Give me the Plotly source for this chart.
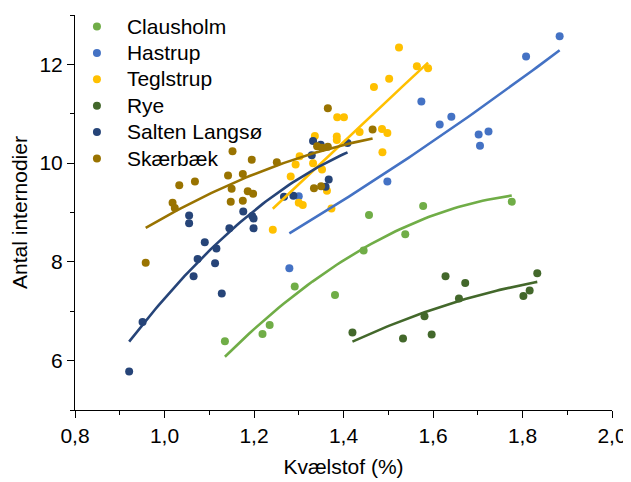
import numpy as np
import plotly.graph_objects as go

# ---- data ----
series_names = ["Clausholm", "Hastrup", "Teglstrup", "Rye", "Salten Langsø", "Skærbæk"]
series_colors = ["#70AD47", "#4472C4", "#FFC000", "#43682B", "#264478", "#997300"]

clausholm_x = [1.135, 1.219, 1.235, 1.291, 1.381, 1.445, 1.457, 1.538, 1.578, 1.776]
clausholm_y = [6.39, 6.54, 6.72, 7.50, 7.33, 8.23, 8.95, 8.56, 9.13, 9.22]

hastrup_x = [1.279, 1.300, 1.498, 1.574, 1.615, 1.641, 1.702, 1.705, 1.724, 1.808, 1.883]
hastrup_y = [7.87, 9.33, 9.63, 11.25, 10.78, 10.94, 10.58, 10.35, 10.64, 12.16, 12.57]

teglstrup_x = [1.242, 1.282, 1.293, 1.300, 1.302, 1.309, 1.332, 1.336, 1.352, 1.363, 1.373,
               1.385, 1.385, 1.386, 1.401, 1.436, 1.468, 1.486, 1.487, 1.498, 1.502, 1.524,
               1.564, 1.589]
teglstrup_y = [8.65, 9.73, 9.97, 9.20, 10.14, 9.15, 10.00, 10.55, 9.87, 9.44, 9.08,
               10.54, 10.47, 10.93, 10.93, 10.63, 11.54, 10.69, 10.22, 10.61, 11.71, 12.34,
               11.96, 11.92]

rye_x = [1.420, 1.533, 1.597, 1.581, 1.628, 1.672, 1.658, 1.802, 1.816, 1.833]
rye_y = [6.57, 6.45, 6.53, 6.90, 7.71, 7.57, 7.26, 7.31, 7.42, 7.77]

salten_x = [0.921, 0.951, 1.055, 1.055, 1.065, 1.074, 1.090, 1.113, 1.116, 1.128, 1.145,
            1.176, 1.196, 1.199, 1.199, 1.267, 1.288, 1.329, 1.332, 1.349, 1.360, 1.367, 1.409]
salten_y = [5.78, 6.78, 8.94, 8.78, 7.71, 8.06, 8.40, 7.97, 8.27, 7.36, 8.68,
            9.02, 8.93, 8.88, 8.68, 9.32, 9.34, 10.16, 10.45, 10.37, 9.52, 9.67, 10.41]

skaerbaek_x = [0.958, 1.018, 1.023, 1.033, 1.068, 1.142, 1.148, 1.150, 1.152, 1.175, 1.175,
               1.186, 1.195, 1.198, 1.251, 1.334, 1.341, 1.350, 1.352, 1.365, 1.365, 1.465]
skaerbaek_y = [7.98, 9.20, 9.09, 9.55, 9.63, 9.75, 9.22, 9.48, 10.24, 9.78, 9.24,
               9.43, 10.07, 9.38, 10.02, 9.49, 10.34, 9.53, 10.31, 10.33, 11.11, 10.68]

x_tick_vals = [0.8, 1.0, 1.2, 1.4, 1.6, 1.8, 2.0]
x_tick_text = ["0,8", "1,0", "1,2", "1,4", "1,6", "1,8", "2,0"]
y_tick_vals = [6, 8, 10, 12]

series_x = [clausholm_x, hastrup_x, teglstrup_x, rye_x, salten_x, skaerbaek_x]
series_y = [clausholm_y, hastrup_y, teglstrup_y, rye_y, salten_y, skaerbaek_y]

FONT = "Arial, 'Liberation Sans', sans-serif"

fig = go.Figure()
for name, color, xs, ys in zip(series_names, series_colors, series_x, series_y):
    fig.add_trace(go.Scatter(x=xs, y=ys, mode="markers",
                             name='<span style="font-size:21px">' + name + '</span>',
                             marker=dict(color=color, size=8, line=dict(width=0))))

# polynomial (order 2) trend lines, fitted to each series
for name, color, xs, ys in zip(series_names, series_colors, series_x, series_y):
    coef = np.polyfit(xs, ys, 2)
    tx = np.linspace(min(xs), max(xs), 60)
    fig.add_trace(go.Scatter(x=tx, y=np.polyval(coef, tx), mode="lines",
                             line=dict(color=color, width=2.6), showlegend=False,
                             hoverinfo="skip"))

axis_common = dict(showline=True, linecolor="black", linewidth=1, showgrid=False,
                   zeroline=False, ticks="outside", ticklen=7, tickwidth=1,
                   tickcolor="black", tickfont=dict(family=FONT, size=21, color="black"))

fig.update_xaxes(range=[0.8, 2.0], tickvals=x_tick_vals, ticktext=x_tick_text,
                 minor=dict(dtick=0.1, ticks="outside", ticklen=4, tickcolor="black"),
                 title=dict(text="Kvælstof (%)", font=dict(family=FONT, size=21, color="black"),
                            standoff=13),
                 **axis_common)
fig.update_yaxes(range=[5, 13], tickvals=y_tick_vals,
                 minor=dict(dtick=1, ticks="outside", ticklen=4, tickcolor="black"),
                 title=dict(text="Antal internodier", font=dict(family=FONT, size=21, color="black"),
                            standoff=9),
                 **axis_common)

# the page body adds an 8 px offset, so the figure is 8 px smaller and margins are shifted
fig.update_layout(
    width=623, height=474,
    margin=dict(l=67, r=19, t=7, b=72, autoexpand=False),
    paper_bgcolor="white", plot_bgcolor="white",
    font=dict(family=FONT, size=20, color="black"),
    showlegend=True,
    legend=dict(x=-0.015, y=1.017, xanchor="left", yanchor="top",
                bgcolor="rgba(0,0,0,0)", itemwidth=50,
                font=dict(family=FONT, size=18, color="black"),
                tracegroupgap=0),
)

fig.write_html("out.html")
